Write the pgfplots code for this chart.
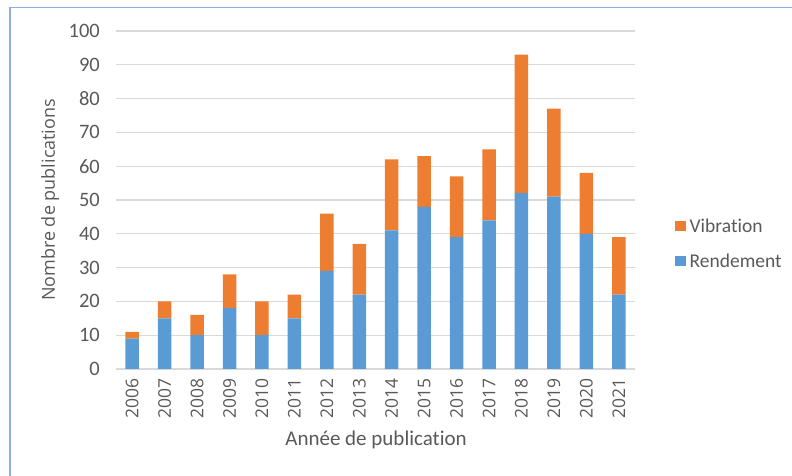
\documentclass[border=0pt]{standalone}
\usepackage{pgfplots}
\pgfplotsset{compat=1.18}
\usepackage{fontspec}
\setmainfont[RawFeature={-liga;-clig;-dlig}]{Carlito}
\newfontfamily\osans[RawFeature={-liga;-clig;-dlig}]{Open Sans}

\definecolor{rendement}{HTML}{5B9BD5}
\definecolor{vibration}{HTML}{ED7D31}
\definecolor{gridgray}{HTML}{D9D9D9}
\definecolor{txtgray}{HTML}{595959}
\definecolor{framebl}{HTML}{8AB2E0}

\begin{document}
\begin{tikzpicture}[x=1pt,y=1pt]
\path[use as bounding box] (0,0) rectangle (792,476);
\draw[framebl, line width=1.6pt] (10,-10) -- (10,468.5) -- (810,468.5);
\begin{axis}[
  at={(116pt,107pt)}, anchor=south west,
  scale only axis, width=519pt, height=338pt,
  ybar stacked, bar width=13.5pt,
  xmin=-0.5, xmax=15.5, ymin=0, ymax=100,
  xtick=data,
  xticklabels={2006,2007,2008,2009,2010,2011,2012,2013,2014,2015,2016,2017,2018,2019,2020,2021},
  ytick={0,10,...,100},
  axis line style={draw=none},
  axis x line*=bottom,
  major tick length=0pt,
  ymajorgrids, grid style={gridgray, line width=1.1pt},
  extra y ticks={0}, extra y tick labels={},
  extra y tick style={grid style={gridgray, line width=1.3pt}},
  /pgf/number format/assume math mode=true,
  yticklabel style={font=\fontsize{20.5}{22}\selectfont, text=txtgray, inner sep=0pt},
  yticklabel shift=16pt,
  xticklabel style={font=\osans\fontsize{17.5}{19}\selectfont, text=txtgray, rotate=90, anchor=east, inner sep=0pt},
  xticklabel shift=9pt,
  xlabel={Année de publication},
  ylabel={Nombre de publications},
  xlabel style={at={(rel axis cs:0.501,-0.210)}, anchor=center, font=\fontsize{21}{23}\selectfont, text=txtgray},
  ylabel style={at={(rel axis cs:-0.127,0.5)}, anchor=center, font=\osans\fontsize{18}{20}\selectfont, text=txtgray},
  reverse legend,
  legend cell align=left,
  legend style={at={(1.077,0.37)}, anchor=west, draw=none, fill=none, inner sep=0pt,
    row sep=16pt, font=\fontsize{19.5}{21}\selectfont, text=txtgray,
    nodes={inner xsep=4pt}},
  legend image code/.code={\fill[#1] (0pt,-5pt) rectangle (10.5pt,5.5pt);},
]
\addplot[fill=rendement, draw=none] coordinates {
  (0,9) (1,15) (2,10) (3,18) (4,10) (5,15) (6,29) (7,22)
  (8,41) (9,48) (10,39) (11,44) (12,52) (13,51) (14,40) (15,22)
};
\addlegendentry{Rendement}
\addplot[fill=vibration, draw=none] coordinates {
  (0,2) (1,5) (2,6) (3,10) (4,10) (5,7) (6,17) (7,15)
  (8,21) (9,15) (10,18) (11,21) (12,41) (13,26) (14,18) (15,17)
};
\addlegendentry{Vibration}
\end{axis}
\end{tikzpicture}
\end{document}
